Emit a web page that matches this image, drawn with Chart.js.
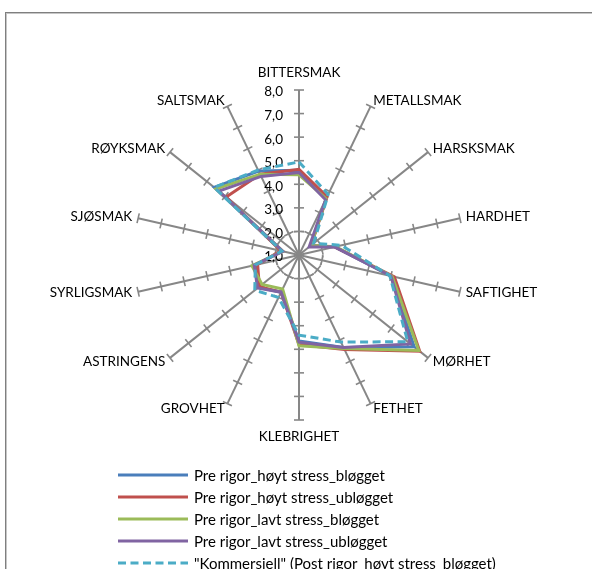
<!DOCTYPE html>
<html><head><meta charset="utf-8">
<script src="https://cdn.jsdelivr.net/npm/chart.js@4"></script>
<style>
html,body{margin:0;padding:0;background:#fff;overflow:hidden;}
body{width:592px;height:569px;position:relative;font-family:Lato,"Noto Sans",sans-serif;}
#frame{position:absolute;left:5px;top:12px;width:700px;height:700px;border-left:1px solid #7f7f7f;border-top:1px solid #7f7f7f;box-shadow:inset 1px 1px 0 #c6c6c6;}
#c{position:absolute;left:0;top:0;}
#legend{position:absolute;left:0;top:0;width:592px;height:569px;}
.li{position:absolute;left:118px;height:22px;display:flex;align-items:center;white-space:nowrap;color:#000;}
.li svg{margin-right:6px;flex:none;}
</style></head>
<body>
<div id="frame"></div>
<canvas id="c" width="592" height="569"></canvas>
<div id="legend"></div>
<script>
// ---- data ----
const categories = ['BITTERSMAK','METALLSMAK','HARSKSMAK','HARDHET','SAFTIGHET','MØRHET','FETHET','KLEBRIGHET','GROVHET','ASTRINGENS','SYRLIGSMAK','SJØSMAK','RØYKSMAK','SALTSMAK'];
const tickValues = [1,2,3,4,5,6,7,8];
const tickLabels = ['1,0','2,0','3,0','4,0','5,0','6,0','7,0','8,0'];
const seriesNames = ['Pre rigor_høyt stress_bløgget','Pre rigor_høyt stress_ubløgget','Pre rigor_lavt stress_bløgget','Pre rigor_lavt stress_ubløgget','"Kommersiell" (Post rigor_høyt stress_bløgget)'];
const seriesColors = ['#4A7EBB','#C0504D','#9BBB59','#8064A2','#4BACC6'];
const highStressBled   = [4.60, 3.70, 1.65, 2.55, 5.00, 7.25, 5.35, 4.65, 2.75, 3.20, 2.90, 1.75, 5.60, 4.95];
const highStressUnbled = [4.63, 3.75, 1.65, 2.55, 5.15, 7.55, 5.45, 4.80, 2.75, 3.15, 2.80, 1.80, 4.95, 4.80];
const lowStressBled    = [4.40, 3.65, 1.65, 2.60, 5.05, 7.50, 5.40, 4.85, 2.60, 3.00, 3.05, 1.70, 5.50, 4.80];
const lowStressUnbled  = [4.50, 3.60, 1.55, 2.55, 5.00, 7.05, 5.35, 4.70, 2.75, 3.25, 2.95, 1.70, 5.35, 4.70];
const commercial       = [4.95, 3.85, 1.80, 2.85, 4.95, 6.90, 5.10, 4.40, 3.00, 3.40, 2.90, 1.75, 5.60, 5.00];
const seriesValues = [highStressBled, highStressUnbled, lowStressBled, lowStressUnbled, commercial];
const seriesDashed = [false, false, false, false, true];

// ---- font calibration ----
const FAMILY = 'Lato, "Noto Sans", sans-serif';
function fitFont(text, targetW){
  const cx = document.createElement('canvas').getContext('2d');
  cx.font = '100px ' + FAMILY;
  return Math.round(2 * 100 * targetW / cx.measureText(text).width) / 2;
}
const labelFont = fitFont('BITTERSMAK', 82);
const tickFont = fitFont('8,0', 19);
const legendFont = fitFont('Pre rigor_høyt stress_bløgget', 191);

// ---- decorations drawn through the radial scale ----
const radarDecor = {
  id: 'radarDecor',
  beforeDatasetsDraw(chart){
    const s = chart.scales.r, ctx = chart.ctx;
    ctx.save();
    ctx.strokeStyle = '#9c9c9c'; ctx.lineWidth = 1.5; ctx.setLineDash([4,3]);
    ctx.beginPath(); ctx.arc(s.xCenter, s.yCenter, s.getDistanceFromCenterForValue(2), 0, Math.PI*2); ctx.stroke();
    ctx.setLineDash([]);
    ctx.strokeStyle = '#878787'; ctx.lineWidth = 1.6;
    for (let i = 0; i < categories.length; i++){
      const a = s.getIndexAngle(i) - Math.PI/2;
      const px = -Math.sin(a), py = Math.cos(a);
      tickValues.forEach(v => {
        if (v <= s.min) return;
        const p = s.getPointPosition(i, s.getDistanceFromCenterForValue(v));
        ctx.beginPath(); ctx.moveTo(p.x - px*5, p.y - py*5); ctx.lineTo(p.x + px*5, p.y + py*5); ctx.stroke();
      });
    }
    ctx.fillStyle = '#000'; ctx.font = tickFont + 'px ' + FAMILY;
    ctx.textAlign = 'right'; ctx.textBaseline = 'middle';
    tickValues.forEach((v, k) => {
      const y = s.yCenter - s.getDistanceFromCenterForValue(v);
      ctx.fillText(tickLabels[k], s.xCenter - 16, y + 2);
    });
    ctx.font = labelFont + 'px ' + FAMILY;
    for (let i = 0; i < categories.length; i++){
      const a = s.getIndexAngle(i) - Math.PI/2;
      const c = Math.cos(a), sn = Math.sin(a);
      const p = s.getPointPosition(i, s.drawingArea + 6);
      let x = p.x, y = p.y;
      if (Math.abs(c) < 0.01){ ctx.textAlign = 'center'; y += sn < 0 ? -11.5 : 11; }
      else { ctx.textAlign = c > 0 ? 'left' : 'right'; }
      ctx.fillText(chart.data.labels[i], x, y);
    }
    ctx.restore();
  }
};

const datasets = seriesNames.map((name, k) => ({
  label: name,
  data: seriesValues[k],
  borderColor: seriesColors[k],
  backgroundColor: seriesColors[k],
  borderWidth: 3,
  borderDash: seriesDashed[k] ? [8,4.5] : [],
  fill: false,
  pointRadius: 0,
  pointHoverRadius: 0,
  order: seriesNames.length - k
}));

new Chart(document.getElementById('c'), {
  type: 'radar',
  data: { labels: categories, datasets },
  options: {
    responsive: false,
    animation: false,
    layout: { padding: { top: 90, bottom: 149, left: 134, right: 128 } },
    plugins: { legend: { display: false }, tooltip: { enabled: false } },
    elements: { line: { tension: 0, borderJoinStyle: 'miter' } },
    scales: {
      r: {
        min: 1, max: 8,
        ticks: { display: false, stepSize: 1 },
        grid: { display: false },
        angleLines: { display: true, color: '#878787', lineWidth: 2 },
        pointLabels: { display: false }
      }
    }
  },
  plugins: [radarDecor]
});

// ---- legend (HTML text) ----
const legendRows = [475, 497, 519, 541, 563];
const lg = document.getElementById('legend');
seriesNames.forEach((name, k) => {
  const row = document.createElement('div');
  row.className = 'li';
  row.style.top = (legendRows[k] - 11) + 'px';
  row.style.fontSize = legendFont + 'px';
  row.innerHTML = '<svg width="70" height="6"><line x1="0" y1="3" x2="70" y2="3" stroke="' + seriesColors[k] +
    '" stroke-width="3"' + (seriesDashed[k] ? ' stroke-dasharray="8 4.5"' : '') + '/></svg>';
  const t = document.createElement('span');
  t.textContent = name;
  row.appendChild(t);
  lg.appendChild(row);
});
</script>
</body></html>
